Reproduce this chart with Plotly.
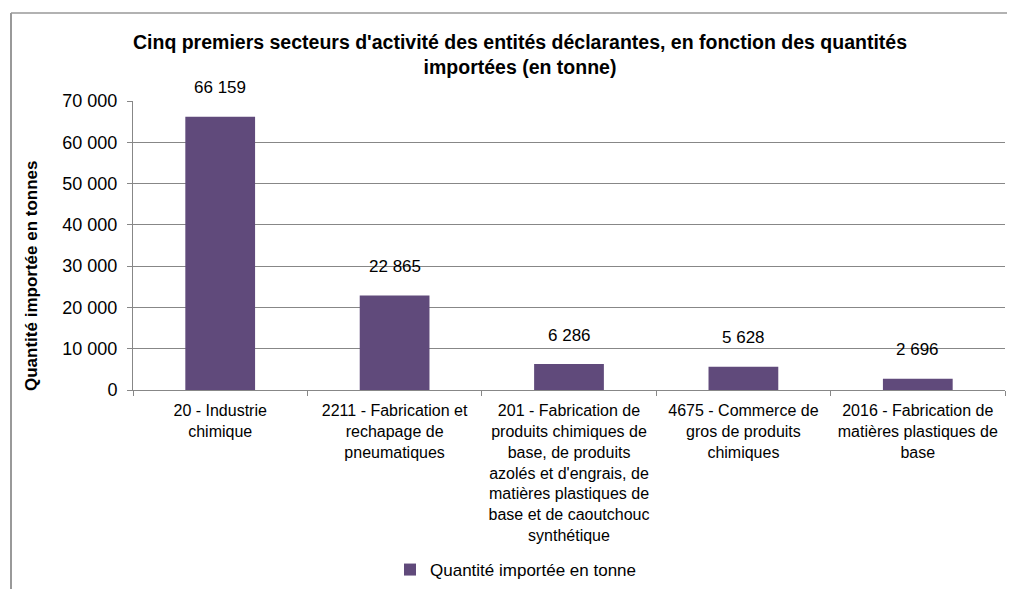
import plotly.graph_objects as go

categories = [
    "20 - Industrie<br>chimique",
    "2211 - Fabrication et<br>rechapage de<br>pneumatiques",
    "201 - Fabrication de<br>produits chimiques de<br>base, de produits<br>azolés et d'engrais, de<br>matières plastiques de<br>base et de caoutchouc<br>synthétique",
    "4675 - Commerce de<br>gros de produits<br>chimiques",
    "2016 - Fabrication de<br>matières plastiques de<br>base",
]
values = [66159, 22865, 6286, 5628, 2696]
series_name = "Quantité importée en tonne"
title_text = "Cinq premiers secteurs d'activité des entités déclarantes, en fonction des quantités<br>importées (en tonne)"
y_title = "Quantité importée en tonnes"
tick_vals = [0, 10000, 20000, 30000, 40000, 50000, 60000, 70000]

BAR = "#604A7B"
GRID = "#878787"
FONT = "Liberation Sans, Arial, sans-serif"

OFF = 8  # page body margin
W, H = 1015 - OFF, 589 - OFF
L = 133 - OFF
T = 101 - OFF
R = (1015 - OFF) - (1005 - OFF)
B = H - (390 - OFF)
pw, ph = W - L - R, H - T - B


def px(xp):
    return (xp - OFF - L) / pw


def py(yp):
    return (H - B - (yp - OFF)) / ph


fig = go.Figure()
fig.add_trace(go.Bar(
    x=categories, y=values, name=series_name,
    marker=dict(color=BAR, line=dict(width=0)),
    showlegend=True,
))

for c, v in zip(categories, values):
    fig.add_annotation(
        x=c, y=v, text=f"{v:,}".replace(",", " "),
        showarrow=False, yshift=29, yanchor="middle",
        font=dict(family=FONT, size=17, color="#000"),
    )

fig.add_annotation(
    xref="paper", yref="paper", x=px(31), y=py(276),
    xanchor="center", yanchor="middle",
    text=f"<b>{y_title}</b>", textangle=-90, showarrow=False,
    font=dict(family=FONT, size=17, color="#000"),
)

fig.add_shape(type="line", xref="paper", yref="paper",
              x0=px(11), x1=px(1040), y0=py(13), y1=py(13),
              line=dict(color="#999", width=1.5))
fig.add_shape(type="line", xref="paper", yref="paper",
              x0=px(11), x1=px(11), y0=py(13), y1=py(620),
              line=dict(color="#999", width=2))

fig.update_layout(
    width=W, height=H,
    margin=dict(l=L, r=R, t=T, b=B, autoexpand=False),
    paper_bgcolor="white", plot_bgcolor="white",
    separators=", ",
    bargap=0.6,
    font=dict(family=FONT, size=17, color="#000"),
    title=dict(text=f"<b>{title_text}</b>", x=(520 - OFF) / W, xanchor="center",
               xref="container", yref="container", y=1 - (49 - OFF) / H, yanchor="middle",
               font=dict(family=FONT, size=19.5, color="#000")),
    legend=dict(orientation="h", xref="container", yref="container",
                x=(516 - OFF) / W, xanchor="center", y=1 - (570 - OFF) / H, yanchor="middle",
                font=dict(family=FONT, size=17, color="#000")),
    xaxis=dict(
        type="category", showgrid=False, showline=True, linecolor=GRID, linewidth=1,
        ticks="outside", tickson="boundaries", ticklen=5, tickcolor=GRID,
        tickfont=dict(family=FONT, size=16, color="#000"), tickangle=0,
        ticklabelstandoff=6, automargin=False,
    ),
    yaxis=dict(
        range=[0, 70000], tickvals=tick_vals, tickformat=",d",
        showgrid=True, gridcolor=GRID, gridwidth=1,
        showline=True, linecolor=GRID, linewidth=1,
        ticks="outside", ticklen=5, tickcolor=GRID, zeroline=False,
        tickfont=dict(family=FONT, size=18, color="#000"),
        ticklabelstandoff=6, automargin=False,
    ),
)

fig.write_html("out.html")
